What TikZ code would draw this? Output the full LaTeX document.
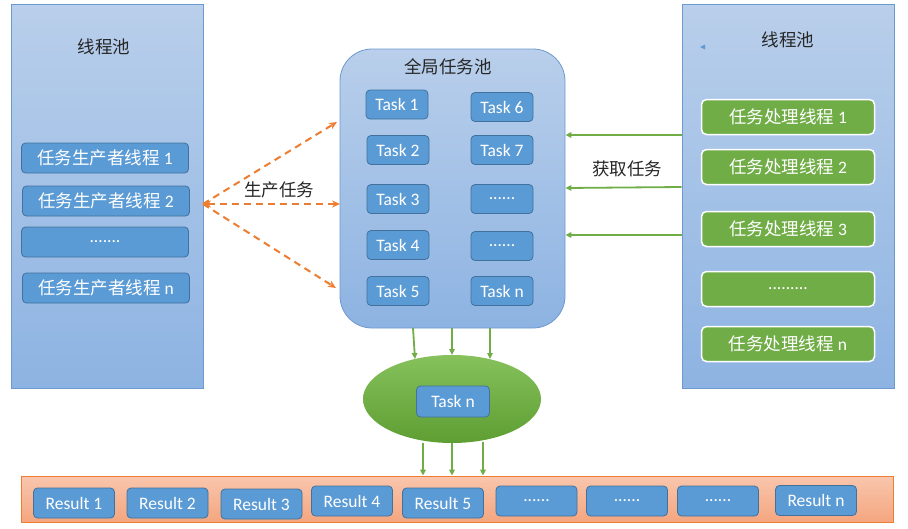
\documentclass[tikz,border=0pt]{standalone}
\usepackage{fontspec}
\setmainfont{Carlito}
\newfontfamily\cjk{Noto Sans CJK SC}
\usetikzlibrary{arrows.meta,shapes.geometric}
\definecolor{boxblue}{HTML}{5B9BD5}
\definecolor{boxedge}{HTML}{41719C}
\definecolor{pooltop}{HTML}{B9CFEB}
\definecolor{poolbot}{HTML}{8DB3E2}
\definecolor{pooledge}{HTML}{6E99CF}
\definecolor{gboxfill}{HTML}{70AD47}
\definecolor{arrgreen}{HTML}{70AD47}
\definecolor{arrorange}{HTML}{ED7D31}
\definecolor{bartop}{HTML}{F9C6AD}
\definecolor{barbot}{HTML}{F4A67F}
\definecolor{elltop}{HTML}{86C15C}
\definecolor{ellbot}{HTML}{5E9E32}
\definecolor{titletext}{HTML}{262626}
\tikzset{
  poolbox/.style={draw=pooledge, line width=0.8pt, top color=pooltop, bottom color=poolbot, inner sep=0pt},
  taskbox/.style={draw=boxedge, line width=0.8pt, fill=boxblue, rounded corners=4pt, text=white, inner sep=0pt,
    font=\fontsize{17.5}{19}\selectfont},
  prodbox/.style={taskbox, minimum width=167pt, minimum height=30pt},
  tbox/.style={taskbox, minimum width=62pt, minimum height=29pt},
  rbox/.style={taskbox, minimum width=81pt, minimum height=30pt},
  gbox/.style={draw=white, line width=1.5pt, fill=gboxfill, rounded corners=5pt, text=white, inner sep=0pt,
    minimum width=173pt, minimum height=35pt, font=\fontsize{17.5}{19}\selectfont},
  lbl/.style={text=titletext, inner sep=0pt, font=\fontsize{17.5}{19}\selectfont\cjk},
  orangearr/.style={draw=arrorange, line width=2pt, dash pattern=on 7pt off 5pt, -{Stealth[length=8pt,width=7pt]}},
  greenarr/.style={draw=arrgreen, line width=1.8pt, -{Triangle[length=6pt,width=5.5pt]}}
}
\begin{document}
\begin{tikzpicture}[x=1pt,y=-1pt]
\useasboundingbox (0,0) rectangle (908,528);

% pools
\node[poolbox, minimum width=192pt, minimum height=384pt] (lp) at (107,196) {};
\node[poolbox, minimum width=212pt, minimum height=384pt] (rp) at (788,196.5) {};
\node[poolbox, rounded corners=32pt, minimum width=225pt, minimum height=279pt] (gp) at (452.5,188.5) {};

\node[lbl] (lpt) at (104,47) {线程池};
\node[lbl] (rpt) at (788,40) {线程池};
\node[lbl] (gpt) at (448,67) {全局任务池};
\fill[fill=boxblue] (700,47) -- (705,44.5) -- (705,49.5) -- cycle;

% producers
\node[prodbox] (p1) at (105,158) {{\cjk 任务生产者线程} 1};
\node[prodbox] (p2) at (106,201) {{\cjk 任务生产者线程} 2};
\node[prodbox] (p3) at (105,242) {.......};
\node[prodbox] (p4) at (106,288) {{\cjk 任务生产者线程} n};

% tasks
\node[tbox] (t1) at (397,104.5) {Task 1};
\node[tbox] (t2) at (398,150) {Task 2};
\node[tbox] (t3) at (398,199) {Task 3};
\node[tbox] (t4) at (398,245) {Task 4};
\node[tbox] (t5) at (398,291) {Task 5};
\node[tbox] (t6) at (502,107) {Task 6};
\node[tbox] (t7) at (502,150) {Task 7};
\node[tbox] (t8) at (502,199) {......};
\node[tbox] (t9) at (502,246) {......};
\node[tbox] (t10) at (502,291) {Task n};

% workers
\node[gbox] (w1) at (788,117) {{\cjk 任务处理线程} 1};
\node[gbox] (w2) at (788,167) {{\cjk 任务处理线程} 2};
\node[gbox] (w3) at (788,229) {{\cjk 任务处理线程} 3};
\node[gbox] (w4) at (788,289) {.........};
\node[gbox] (w5) at (788,344) {{\cjk 任务处理线程} n};

% ellipse
\node[ellipse, top color=elltop, bottom color=ellbot, draw=none, minimum width=178pt, minimum height=88pt, inner sep=0pt] (el) at (452,399) {};
\node[tbox, minimum width=73pt, minimum height=31pt] (tn) at (453,401.5) {Task n};

% results bar
\node[draw=arrorange, line width=0.8pt, top color=bartop, bottom color=barbot, minimum width=872pt, minimum height=46pt, inner sep=0pt] (bar) at (457,499) {};
\node[rbox] (r1) at (74,503) {Result 1};
\node[rbox] (r2) at (167.5,503) {Result 2};
\node[rbox] (r3) at (261.5,504) {Result 3};
\node[rbox] (r4) at (352,501) {Result 4};
\node[rbox] (r5) at (443,503) {Result 5};
\node[rbox] (r6) at (536.5,501) {......};
\node[rbox] (r7) at (627,501) {......};
\node[rbox] (r8) at (718,501) {......};
\node[rbox] (r9) at (816,500.5) {Result n};

% orange arrows
\coordinate (src) at (203,204);
\coordinate (o1) at (337,122);
\coordinate (o2) at (340,204);
\coordinate (o3) at (336,288);
\draw[orangearr] (src) -- (o1);
\draw[orangearr, {Stealth[length=8pt,width=7pt]}-{Stealth[length=8pt,width=7pt]}] (src) -- (o2);
\draw[orangearr] (src) -- (o3);
\node[lbl] (prodlbl) at (279,190) {生产任务};

% green arrows to global pool
\draw[greenarr] (rp.west |- 0,135) -- (gp.east |- 0,135);
\draw[greenarr] (rp.west |- 0,187) -- (gp.east |- 0,188);
\draw[greenarr] (rp.west |- 0,235) -- (gp.east |- 0,235);
\node[lbl] (getlbl) at (627,169) {获取任务};

% global pool to ellipse
\coordinate (d1a) at (413,328);
\coordinate (d1b) at (415,359);
\coordinate (d2a) at (452,328);
\coordinate (d2b) at (452,355);
\coordinate (d3a) at (490,328);
\coordinate (d3b) at (490,359);
\draw[greenarr] (d1a) -- (d1b);
\draw[greenarr] (d2a) -- (d2b);
\draw[greenarr] (d3a) -- (d3b);

% ellipse to results
\coordinate (e1a) at (423,443);
\coordinate (e2a) at (452,443);
\coordinate (e3a) at (483,442);
\draw[greenarr] (e1a) -- (e1a |- bar.north);
\draw[greenarr] (e2a) -- (e2a |- bar.north);
\draw[greenarr] (e3a) -- (e3a |- bar.north);
\end{tikzpicture}
\end{document}
